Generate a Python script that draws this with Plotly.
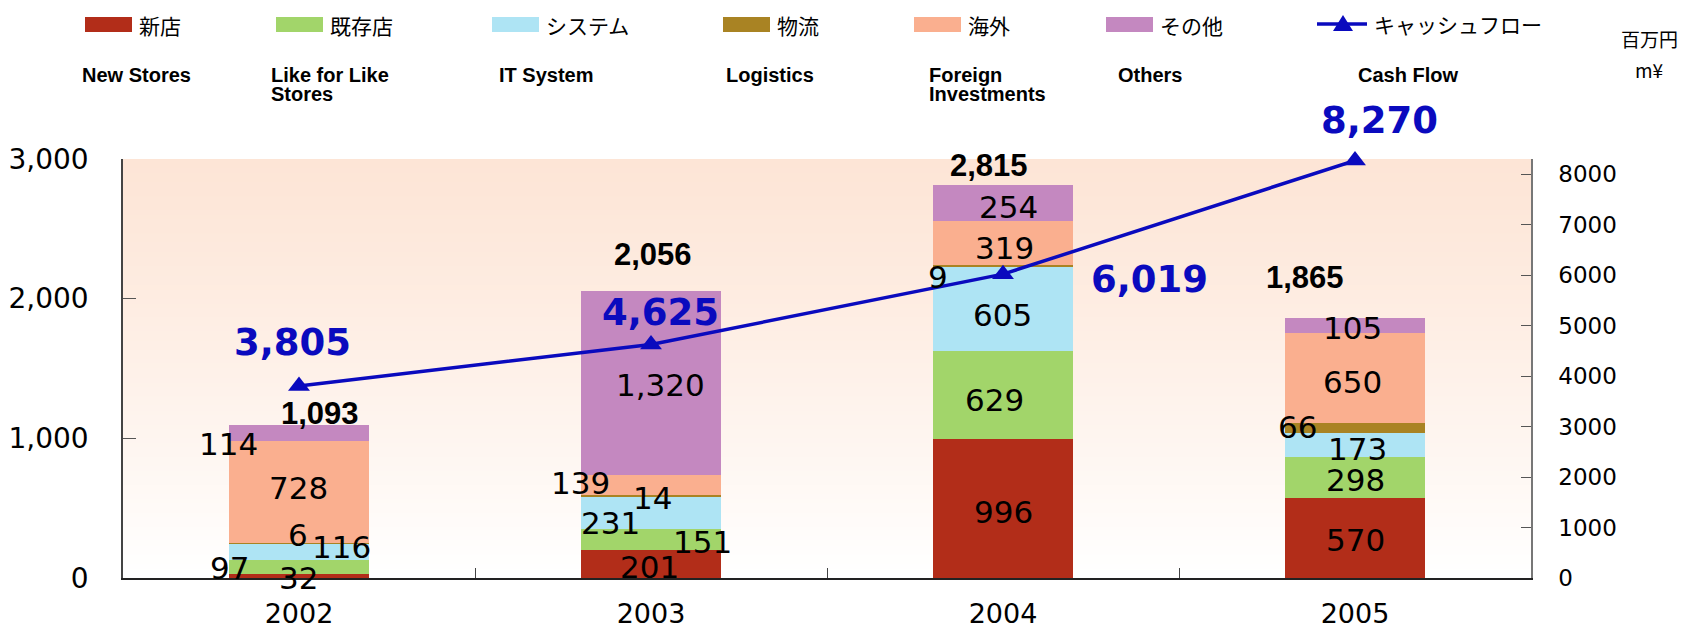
import plotly.graph_objects as go

# ---------------- data ----------------
years = ["2002", "2003", "2004", "2005"]
series_jp = ["新店", "既存店", "システム", "物流", "海外", "その他"]
series_en = [["New Stores"], ["Like for Like", "Stores"], ["IT System"],
             ["Logistics"], ["Foreign", "Investments"], ["Others"]]
new_stores = [32, 201, 996, 570]
like_for_like = [97, 151, 629, 298]
it_system = [116, 231, 605, 173]
logistics = [6, 14, 9, 66]
foreign = [728, 139, 319, 650]
others = [114, 1320, 254, 105]
totals = [1093, 2056, 2815, 1865]
cash_flow = [3805, 4625, 6019, 8270]
cf_jp = "キャッシュフロー"
cf_en = "Cash Flow"
unit_jp = "百万円"
unit_en = "m¥"

series_values = [new_stores, like_for_like, it_system, logistics, foreign, others]

# ---------------- styles ----------------
colors = ["#B22D19", "#A2D56A", "#AEE4F4", "#A98323", "#FAAF8F", "#C488C0"]
line_color = "#0A0ABE"
NUM_FONT = "DejaVu Sans"
JP_FONT = "Noto Sans CJK JP"
EN_FONT = "Liberation Sans"

# label pixel offsets (dx, dy up) per series per year
seg_offsets = [
    [(-1, -2), (-2, -3), (0, -4), (0, -2)],
    [(-70, -1), (51, -3), (-9, -5), (0, -2)],
    [(42, 5), (-41, -10), (-1, -6), (2, -4)],
    [(-1, 8), (1, -2), (-65, -11), (-58, 1)],
    [(-1, 4), (-71, 2), (1, -5), (-3, -4)],
    [(-71, -11), (9, -2), (5, -4), (-3, -3)],
]
total_offsets = [(21, 12), (2, 36), (-14, 20), (-50, 40)]
cf_offsets = [(-7, 43), (9, 32), (146, -5), (24, 40)]

# page offset (body margin) and plot area in screen pixels
OFF = 8
SW, SH = 1686, 628
W, H = SW - OFF, SH - OFF
SL, SR, ST, SB = 123, 1531, 159, 578


def px(x):
    return (x - SL) / (SR - SL)


def py(y):
    return (SB - y) / (SB - ST)


fig = go.Figure()

for name, vals, col in zip(series_jp, series_values, colors):
    fig.add_trace(go.Bar(x=years, y=vals, name=name, marker=dict(color=col, line=dict(width=0)),
                         width=0.4, showlegend=False))

fig.add_trace(go.Scatter(x=years, y=cash_flow, name=cf_jp, yaxis="y2", mode="lines+markers",
                         line=dict(color=line_color, width=3.5),
                         marker=dict(symbol="triangle-up", size=19, color=line_color),
                         cliponaxis=False, showlegend=False))

annotations = []
# segment labels (x given as category index)
for si, vals in enumerate(series_values):
    for yi in range(len(years)):
        base = sum(series_values[k][yi] for k in range(si))
        mid = base + vals[yi] / 2
        dx, dy = seg_offsets[si][yi]
        annotations.append(dict(x=yi, y=mid, xref="x", yref="y", text=f"{vals[yi]:,}",
                                showarrow=False, xshift=dx, yshift=dy,
                                font=dict(family=NUM_FONT, size=31, color="black")))
# total labels
for yi in range(len(years)):
    top = sum(series_values[k][yi] for k in range(len(series_values)))
    dx, dy = total_offsets[yi]
    annotations.append(dict(x=yi, y=top, xref="x", yref="y", text=f"{totals[yi]:,}",
                            showarrow=False, xshift=dx, yshift=dy,
                            font=dict(family=EN_FONT, size=31, color="black", weight="bold")))
# cash flow labels
for yi in range(len(years)):
    dx, dy = cf_offsets[yi]
    annotations.append(dict(x=yi, y=cash_flow[yi], xref="x", yref="y2", text=f"{cash_flow[yi]:,}",
                            showarrow=False, xshift=dx, yshift=dy,
                            font=dict(family=NUM_FONT, size=37, color=line_color, weight="bold")))

shapes = []
# gradient plot background
N = 90
top_c = (253, 229, 214)
bot_c = (255, 255, 255)
for i in range(N):
    t = (i + 0.5) / N
    t = t ** 1.15
    c = tuple(round(top_c[k] + (bot_c[k] - top_c[k]) * t) for k in range(3))
    shapes.append(dict(type="rect", xref="paper", yref="paper", x0=0, x1=1,
                       y0=max(0, 1 - (i + 1) / N - 0.002), y1=1 - i / N, layer="below",
                       line=dict(width=0), fillcolor=f"rgb{c}"))

# custom legend
box_lefts = [85, 276, 492, 723, 914, 1106]
en_lefts = [80, 269, 497, 724, 927, 1116]
for i, name in enumerate(series_jp):
    x0 = box_lefts[i]
    shapes.append(dict(type="rect", xref="paper", yref="paper", x0=px(x0), x1=px(x0 + 47),
                       y0=py(32), y1=py(17), line=dict(width=0), fillcolor=colors[i]))
    annotations.append(dict(x=px(x0 + 52), y=py(25), xref="paper", yref="paper", text=name,
                            showarrow=False, xanchor="left", yanchor="middle",
                            font=dict(family=JP_FONT, size=21, color="black")))
    for li, line in enumerate(series_en[i]):
        annotations.append(dict(x=px(en_lefts[i]), y=py(75 + 19 * li), xref="paper", yref="paper",
                                text=line, showarrow=False, xanchor="left", yanchor="middle",
                                font=dict(family=EN_FONT, size=20, color="black", weight="bold")))

# cash flow legend
shapes.append(dict(type="line", xref="paper", yref="paper", x0=px(1317), x1=px(1367),
                   y0=py(24), y1=py(24), line=dict(color=line_color, width=3.5)))
shapes.append(dict(type="path", xref="paper", yref="paper",
                   path=f"M {px(1333)} {py(31)} L {px(1353)} {py(31)} L {px(1343)} {py(15)} Z",
                   line=dict(width=0), fillcolor=line_color))
annotations.append(dict(x=px(1372), y=py(24), xref="paper", yref="paper", text=cf_jp,
                        showarrow=False, xanchor="left", yanchor="middle",
                        font=dict(family=JP_FONT, size=21, color="black")))
annotations.append(dict(x=px(1356), y=py(75), xref="paper", yref="paper", text=cf_en,
                        showarrow=False, xanchor="left", yanchor="middle",
                        font=dict(family=EN_FONT, size=20, color="black", weight="bold")))
annotations.append(dict(x=px(1680), y=py(38), xref="paper", yref="paper", text=unit_jp,
                        showarrow=False, xanchor="right", yanchor="middle",
                        font=dict(family=JP_FONT, size=19, color="black")))
annotations.append(dict(x=px(1649), y=py(70), xref="paper", yref="paper", text=unit_en,
                        showarrow=False, xanchor="center", yanchor="middle",
                        font=dict(family=JP_FONT, size=19, color="black")))

fig.update_layout(
    width=W, height=H,
    margin=dict(l=SL - OFF, r=SW - SR, t=ST - OFF, b=SH - SB, pad=0, autoexpand=False),
    paper_bgcolor="white", plot_bgcolor="white",
    barmode="stack",
    showlegend=False,
    annotations=annotations, shapes=shapes,
    xaxis=dict(type="category", range=[-0.5, 3.5], tickson="boundaries", ticks="inside",
               ticklen=10, tickcolor="#444", showline=True, linecolor="#222", linewidth=1.5,
               showgrid=False, zeroline=False, ticklabelstandoff=11, automargin=False,
               tickangle=0,
               tickfont=dict(family=NUM_FONT, size=27, color="black")),
    yaxis=dict(range=[0, 3000], tickvals=[0, 1000, 2000, 3000], tickformat=",",
               ticks="inside", ticklen=13, tickcolor="#555", showline=True,
               linecolor="#444", linewidth=1.5, showgrid=False, zeroline=False,
               ticklabelstandoff=27, automargin=False,
               tickfont=dict(family=NUM_FONT, size=28, color="black")),
    yaxis2=dict(range=[0, 8300], overlaying="y", side="right", tickmode="linear",
                tick0=0, dtick=1000, tickformat="d", ticks="inside", ticklen=10,
                tickcolor="#555", showline=True, linecolor="#777", linewidth=1.5,
                showgrid=False, zeroline=False, ticklabelstandoff=21, automargin=False,
                tickfont=dict(family=NUM_FONT, size=23, color="black")),
)

fig.write_html("out.html")
